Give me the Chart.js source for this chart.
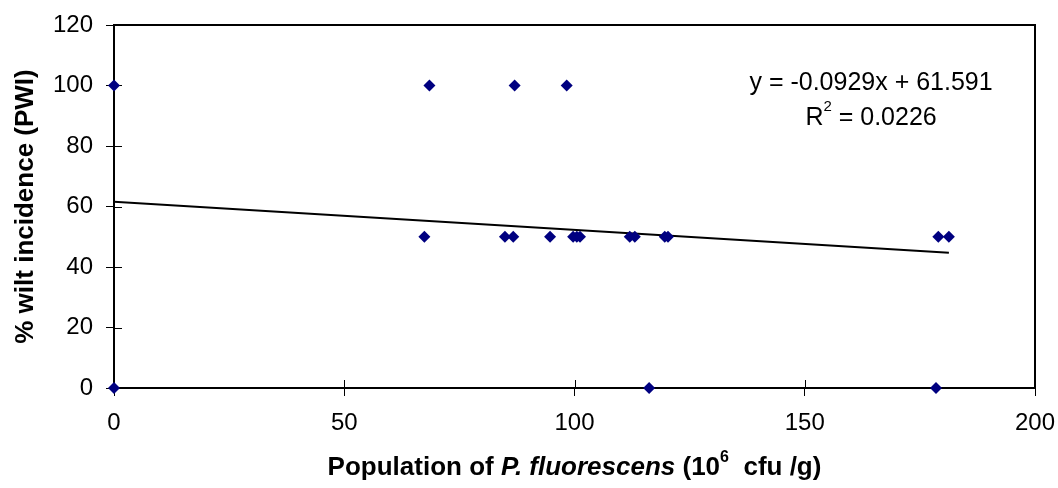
<!DOCTYPE html>
<html>
<head>
<meta charset="utf-8">
<script src="https://cdn.jsdelivr.net/npm/chart.js@4"></script>
<style>
  body { margin: 0; background: #fff; }
  #wrap { width: 1058px; height: 488px; }
</style>
</head>
<body>
<div id="wrap"><canvas id="chart"></canvas></div>
<script>
// population of P. fluorescens (10^6 cfu/g) and % wilt incidence
const popX = [0, 68.5, 87.0, 98.3,
  67.4, 84.9, 86.7, 94.7, 99.7, 100.5, 101.2, 112.0, 113.1, 119.6, 120.3, 179.0, 181.3,
  0, 116.2, 178.5];
const wiltY = [100, 100, 100, 100,
  50, 50, 50, 50, 50, 50, 50, 50, 50, 50, 50, 50, 50,
  0, 0, 0];
const xTicks = [0, 50, 100, 150, 200];
const yTicks = [0, 20, 40, 60, 80, 100, 120];
const slope = -0.0929;
const intercept = 61.591;
const r2 = 0.0226;

const FONT = '"Liberation Sans", Arial, sans-serif';

var points = popX.map(function (x, i) { return { x: x, y: wiltY[i] }; });
var xMax = Math.max.apply(null, popX);
var trend = [
  { x: 0, y: intercept },
  { x: xMax, y: slope * xMax + intercept }
];

// frame and inner tick marks go under the markers
var frame = {
  id: "frame",
  beforeDatasetsDraw: function (chart) {
    var ctx = chart.ctx;
    var a = chart.chartArea;
    var xs = chart.scales.x, ys = chart.scales.y;
    ctx.save();
    ctx.strokeStyle = "#000";
    ctx.lineWidth = 1;
    ctx.beginPath();
    xTicks.forEach(function (t) {
      var px = Math.round(xs.getPixelForValue(t)) + 0.5;
      ctx.moveTo(px, a.bottom);
      ctx.lineTo(px, a.bottom - 8);
    });
    yTicks.forEach(function (t) {
      var py = Math.round(ys.getPixelForValue(t)) + 0.5;
      ctx.moveTo(a.left, py);
      ctx.lineTo(a.left + 8, py);
    });
    ctx.stroke();
    ctx.lineWidth = 2;
    ctx.strokeRect(a.left, a.top, a.right - a.left, a.bottom - a.top);
    ctx.restore();
  }
};

// equation and axis titles
var labels = {
  id: "labels",
  afterDraw: function (chart) {
    var ctx = chart.ctx;
    var a = chart.chartArea;
    ctx.save();
    ctx.fillStyle = "#000";
    ctx.textBaseline = "middle";

    ctx.font = "25px " + FONT;
    ctx.textAlign = "center";
    var ex = a.left + (a.right - a.left) * 0.822;
    ctx.fillText("y = " + slope + "x + " + intercept, ex, 83);
    var rA = "R", rB = " = " + r2.toFixed(4);
    var wA = ctx.measureText(rA).width, wB = ctx.measureText(rB).width;
    ctx.font = "15px " + FONT;
    var wS = ctx.measureText("2").width;
    var sx = ex - (wA + wS + wB) / 2;
    ctx.textAlign = "left";
    ctx.font = "25px " + FONT;
    ctx.fillText(rA, sx, 118);
    ctx.font = "15px " + FONT;
    ctx.fillText("2", sx + wA, 107);
    ctx.font = "25px " + FONT;
    ctx.fillText(rB, sx + wA + wS, 118);

    var parts = [
      { t: "Population of ", f: "bold 26px " + FONT, dy: 0 },
      { t: "P. fluorescens", f: "italic bold 26px " + FONT, dy: 0 },
      { t: " (10", f: "bold 26px " + FONT, dy: 0 },
      { t: "6", f: "bold 16px " + FONT, dy: -10 },
      { t: "  cfu /g)", f: "bold 26px " + FONT, dy: 0 }
    ];
    var total = 0;
    parts.forEach(function (p) { ctx.font = p.f; p.w = ctx.measureText(p.t).width; total += p.w; });
    var tx = (a.left + a.right) / 2 - total / 2;
    parts.forEach(function (p) {
      ctx.font = p.f;
      ctx.fillText(p.t, tx, 468 + p.dy);
      tx += p.w;
    });

    ctx.translate(26, (a.top + a.bottom) / 2);
    ctx.rotate(-Math.PI / 2);
    ctx.textAlign = "center";
    ctx.font = "bold 26px " + FONT;
    ctx.fillText("% wilt incidence (PWI)", 0, 0);
    ctx.restore();
  }
};

var ctx = document.getElementById("chart").getContext("2d");
var myChart = new Chart(ctx, {
  type: "scatter",
  data: {
    datasets: [
      {
        label: "PWI",
        data: points,
        pointStyle: "rectRot",
        pointRadius: 6,
        pointHoverRadius: 6,
        backgroundColor: "#000080",
        borderColor: "#000080",
        borderWidth: 0,
        clip: false,
      },
      {
        label: "Linear",
        type: "line",
        data: trend,
        borderColor: "#000",
        borderWidth: 2,
        pointRadius: 0,
        fill: false,
      },
    ],
  },
  options: {
    responsive: true,
    maintainAspectRatio: false,
    animation: false,
    layout: { padding: { top: 25, right: 23, left: 0, bottom: 0 } },
    plugins: {
      legend: { display: false },
      tooltip: { enabled: false },
    },
    scales: {
      x: {
        type: "linear",
        min: 0,
        max: 200,
        afterFit: function (s) { s.height = 100; s.paddingLeft = 0; s.paddingRight = 0; },
        afterBuildTicks: function (s) { s.ticks = xTicks.map(function (v) { return { value: v }; }); },
        border: { display: false },
        grid: { drawOnChartArea: false, drawTicks: true, tickLength: 8, color: "#000", lineWidth: 1 },
        ticks: { color: "#000", padding: 13, maxRotation: 0, font: { family: FONT, size: 24 } },
      },
      y: {
        min: 0,
        max: 120,
        afterFit: function (s) { s.width = 114; s.paddingTop = 0; s.paddingBottom = 0; },
        afterBuildTicks: function (s) { s.ticks = yTicks.map(function (v) { return { value: v }; }); },
        border: { display: false },
        grid: { drawOnChartArea: false, drawTicks: true, tickLength: 8, color: "#000", lineWidth: 1 },
        ticks: { color: "#000", padding: 13, font: { family: FONT, size: 24 } },
      },
    },
  },
  plugins: [frame, labels],
});
</script>
</body>
</html>
